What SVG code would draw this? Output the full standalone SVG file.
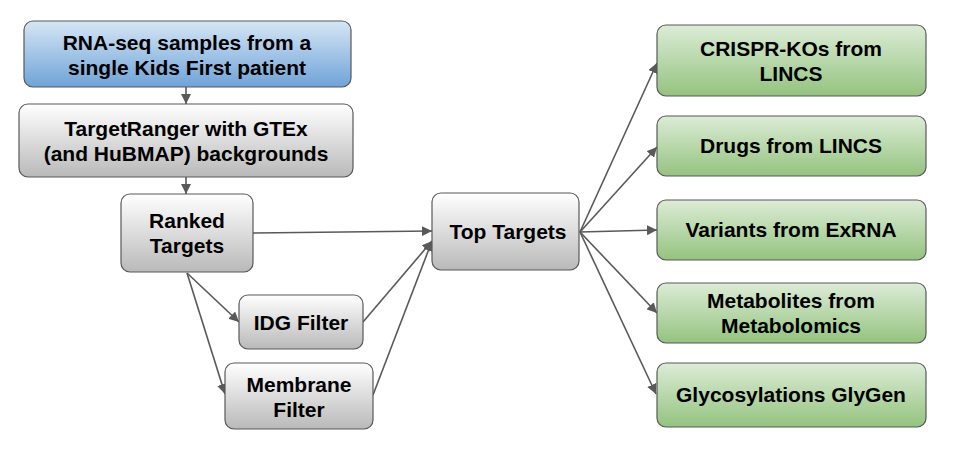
<svg xmlns="http://www.w3.org/2000/svg" width="956" height="455" viewBox="0 0 956 455">
<defs>
<linearGradient id="gBlue" x1="0" y1="0" x2="0" y2="1"><stop offset="0" stop-color="#d6e6f5"/><stop offset="1" stop-color="#6fa3d8"/></linearGradient>
<linearGradient id="gGray" x1="0" y1="0" x2="0" y2="1"><stop offset="0" stop-color="#ffffff"/><stop offset="1" stop-color="#b9b9b9"/></linearGradient>
<linearGradient id="gGreen" x1="0" y1="0" x2="0" y2="1"><stop offset="0" stop-color="#dcecd6"/><stop offset="1" stop-color="#94c37f"/></linearGradient>
<marker id="arr" viewBox="0 0 10 10" refX="10" refY="5" markerWidth="10" markerHeight="10" markerUnits="userSpaceOnUse" orient="auto"><path d="M0,0 L10,5 L0,10 z" fill="#595959"/></marker>
</defs>
<style>
.box{stroke:#595959;stroke-width:1.2}
.blue{fill:url(#gBlue)}
.gray{fill:url(#gGray)}
.green{fill:url(#gGreen)}
text{font-family:"Liberation Sans",Arial,sans-serif;font-weight:bold;font-size:21px;fill:#000;text-anchor:middle}
.c line{stroke:#595959;stroke-width:1.6;marker-end:url(#arr)}
</style>
<rect width="956" height="455" fill="#fff"/>
<g class="c" id="connectors">
<line x1="186" y1="87" x2="186" y2="104"/>
<line x1="186" y1="177" x2="186" y2="194"/>
<line x1="253" y1="233" x2="432" y2="231"/>
<line x1="187" y1="273" x2="239" y2="322"/>
<line x1="187" y1="273" x2="225" y2="394"/>
<line x1="363" y1="322" x2="432" y2="241"/>
<line x1="373" y1="395" x2="432" y2="241"/>
<line x1="580" y1="232" x2="657" y2="63"/>
<line x1="580" y1="232" x2="657" y2="147"/>
<line x1="580" y1="232" x2="657" y2="230"/>
<line x1="580" y1="232" x2="657" y2="313"/>
<line x1="580" y1="232" x2="656" y2="394"/>
</g>
<g id="rnaseq"><rect class="box blue" x="24" y="21" width="327" height="66" rx="9"/><text x="187" y="50">RNA-seq samples from a</text><text x="187" y="75">single Kids First patient</text></g>
<g id="targetranger"><rect class="box gray" x="19" y="104" width="334" height="73" rx="9"/><text x="186" y="136">TargetRanger with GTEx</text><text x="186" y="161">(and HuBMAP) backgrounds</text></g>
<g id="ranked"><rect class="box gray" x="121" y="194" width="132" height="78" rx="9"/><text x="187" y="228">Ranked</text><text x="187" y="253">Targets</text></g>
<g id="idg"><rect class="box gray" x="239" y="295" width="124" height="54" rx="9"/><text x="301" y="330">IDG Filter</text></g>
<g id="membrane"><rect class="box gray" x="225" y="363" width="148" height="66" rx="9"/><text x="299" y="392">Membrane</text><text x="299" y="417">Filter</text></g>
<g id="top"><rect class="box gray" x="432" y="193" width="147" height="77" rx="9"/><text x="508" y="239">Top Targets</text></g>
<g id="crispr"><rect class="box green" x="657" y="25" width="269" height="71" rx="9"/><text x="791" y="56">CRISPR-KOs from</text><text x="791" y="81">LINCS</text></g>
<g id="drugs"><rect class="box green" x="657" y="116" width="269" height="60" rx="9"/><text x="791" y="153">Drugs from LINCS</text></g>
<g id="variants"><rect class="box green" x="657" y="200" width="269" height="60" rx="9"/><text x="791" y="237">Variants from ExRNA</text></g>
<g id="metabolites"><rect class="box green" x="657" y="283" width="269" height="60" rx="9"/><text x="791" y="308">Metabolites from</text><text x="791" y="333">Metabolomics</text></g>
<g id="glyco"><rect class="box green" x="657" y="363" width="269" height="64" rx="9"/><text x="791" y="402">Glycosylations GlyGen</text></g>
</svg>
